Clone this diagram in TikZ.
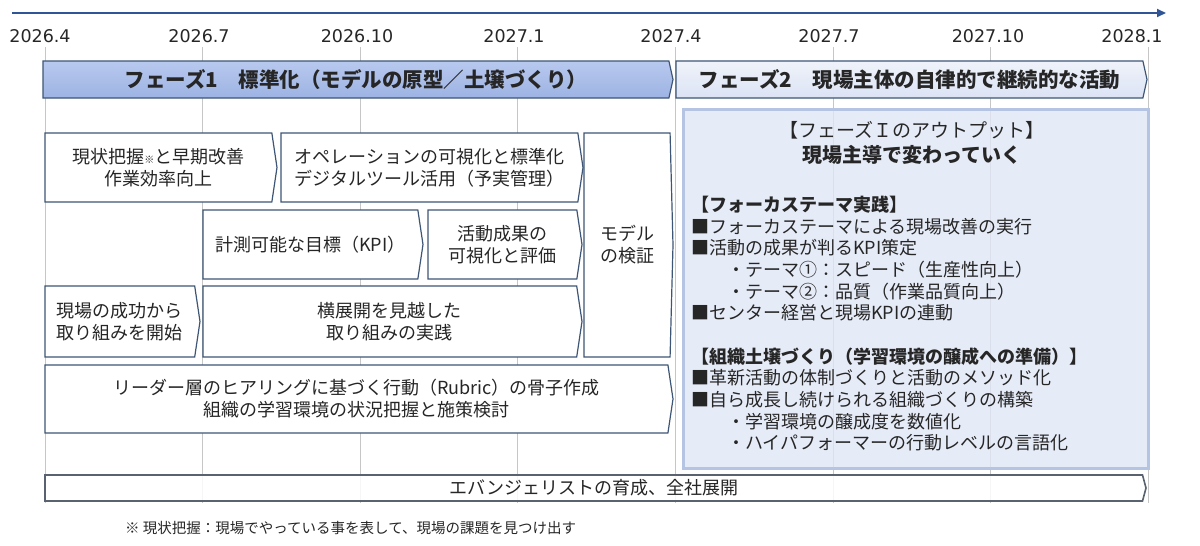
\documentclass[tikz,border=0pt]{standalone}
\usepackage{fontspec}
\newfontfamily\jp{Noto Sans CJK JP}
\newfontfamily\dv{DejaVu Sans}
\usetikzlibrary{shapes.symbols}
\usetikzlibrary{arrows.meta}
\definecolor{axisblue}{HTML}{2F5597}
\definecolor{gridgray}{HTML}{C6C6C6}
\definecolor{edgeblue}{HTML}{3E5675}
\definecolor{txtgray}{HTML}{262626}
\definecolor{panelfill}{HTML}{DFE6F5}
\definecolor{paneledge}{HTML}{B6C4E4}
\definecolor{btmgray}{HTML}{59626E}
\definecolor{ph1top}{HTML}{B8C9EE}
\definecolor{ph1bot}{HTML}{9DB3E3}
\definecolor{ph2top}{HTML}{EEF2FA}
\definecolor{ph2bot}{HTML}{D5DEF3}

\begin{document}
\begin{tikzpicture}[x=1pt,y=-1pt,
	axis/.style={draw=axisblue,line width=2pt,-{Triangle[length=9pt,width=8pt]}},
	grid/.style={draw=gridgray,line width=.8pt},
	datelbl/.style={font=\dv\fontsize{17.5}{20}\selectfont,text=txtgray,inner sep=0pt},
	txt/.style={text=txtgray,font=\jp\fontsize{18}{22}\selectfont,align=center},
	chev/.style={shape=signal,signal to=east,signal pointer angle=163,draw=edgeblue,line width=1.2pt,fill=white,inner sep=0pt,outer sep=0pt,anchor=west,minimum height=69pt,txt},
	phase/.style={chev,signal pointer angle=155,minimum height=37pt,font=\jp\bfseries\fontsize{20.5}{24}\selectfont,text=black!85},
	panel/.style={draw=paneledge,line width=3pt,fill=panelfill,fill opacity=.8,anchor=north west,inner sep=0pt},
	paneltxt/.style={text=txtgray,font=\jp\fontsize{18}{21.6}\selectfont,inner sep=0pt}]
	\useasboundingbox (0,0) rectangle (1200,546);

	% time axis
	\coordinate (t_start) at (12,13);
	\coordinate (t_end) at (1166,13);
	\draw[axis] (t_start) -- (t_end);
	\foreach \lx/\t [count=\i] in {40/2026.4,199/2026.7,357/2026.10,514/2027.1,671/2027.4,829/2027.7,988/2027.10,1132/2028.1}
		\node[datelbl] at (\lx,36) (date\i) {\t};
	\foreach \i in {0,...,7}
		\draw[grid] ({45+157.6*\i},47) -- ({45+157.6*\i},503);

	% phases
	\node[phase,minimum width=630pt,top color=ph1top,bottom color=ph1bot] at (43,79.5) (ph1) {フェーズ1　標準化（モデルの原型／土壌づくり）};
	\node[phase,minimum width=471pt,top color=ph2top,bottom color=ph2bot,fill opacity=.85,text opacity=1] at (676,79.5) (ph2) {フェーズ2　現場主体の自律的で継続的な活動};

	% phase 1 tasks
	\node[chev,minimum width=232pt] at (45,167.5) (r1_genjo) {現状把握{\fontsize{10}{10}\selectfont ※}と早期改善\\作業効率向上};
	\node[chev,minimum width=302pt] at (281,167.5) (r1_ope) {オペレーションの可視化と標準化\\デジタルツール活用（予実管理）};
	\node[chev,minimum width=89pt,minimum height=224pt,signal pointer angle=177] at (584,245) (r1_model) {モデル\\の検証};
	\node[chev,minimum width=220pt] at (203,244.5) (r2_kpi) {計測可能な目標（KPI）};
	\node[chev,minimum width=154pt] at (428,244.5) (r2_seika) {活動成果の\\可視化と評価};
	\node[chev,minimum width=155pt,minimum height=71pt] at (45,321.5) (r3_genba) {現場の成功から\\取り組みを開始};
	\node[chev,minimum width=379pt,minimum height=71pt] at (203,321.5) (r3_yoko) {横展開を見越した\\取り組みの実践};
	\node[chev,minimum width=628pt,minimum height=68pt] at (45,399) (r4_leader) {リーダー層のヒアリングに基づく行動（Rubric）の骨子作成\\組織の学習環境の状況把握と施策検討};

	% phase 1 output
	\node[panel,minimum width=465pt,minimum height=359pt] at (682,108) (out_panel) {};
	\node[paneltxt,font=\jp\fontsize{19}{22}\selectfont] at (912,130) (out_title) {【フェーズＩのアウトプット】};
	\node[paneltxt,font=\jp\bfseries\fontsize{20}{22}\selectfont] at (912,155) (out_sub) {現場主導で変わっていく};
	\node[paneltxt,align=left,anchor=north west] at (691,196) (out_list) {{\bfseries 【フォーカステーマ実践】}\\
		■フォーカステーマによる現場改善の実行\\
		■活動の成果が判るKPI策定\\
		　　・テーマ①：スピード（生産性向上）\\
		　　・テーマ②：品質（作業品質向上）\\
		■センター経営と現場KPIの連動\\[22pt]
		{\bfseries 【組織土壌づくり（学習環境の醸成への準備）】}\\
		■革新活動の体制づくりと活動のメソッド化\\
		■自ら成長し続けられる組織づくりの構築\\
		　　・学習環境の醸成度を数値化\\
		　　・ハイパフォーマーの行動レベルの言語化};

	% whole period
	\node[chev,minimum width=1101pt,minimum height=26pt,signal pointer angle=150,draw=btmgray,line width=1.6pt,fill opacity=.85,text opacity=1] at (45,488) (btm_evan) {エバンジェリストの育成、全社展開};

	\node[txt,font=\jp\fontsize{14.5}{17}\selectfont,anchor=west,inner sep=0pt] at (125,528) (note) {※ 現状把握：現場でやっている事を表して、現場の課題を見つけ出す};
\end{tikzpicture}
\end{document}
